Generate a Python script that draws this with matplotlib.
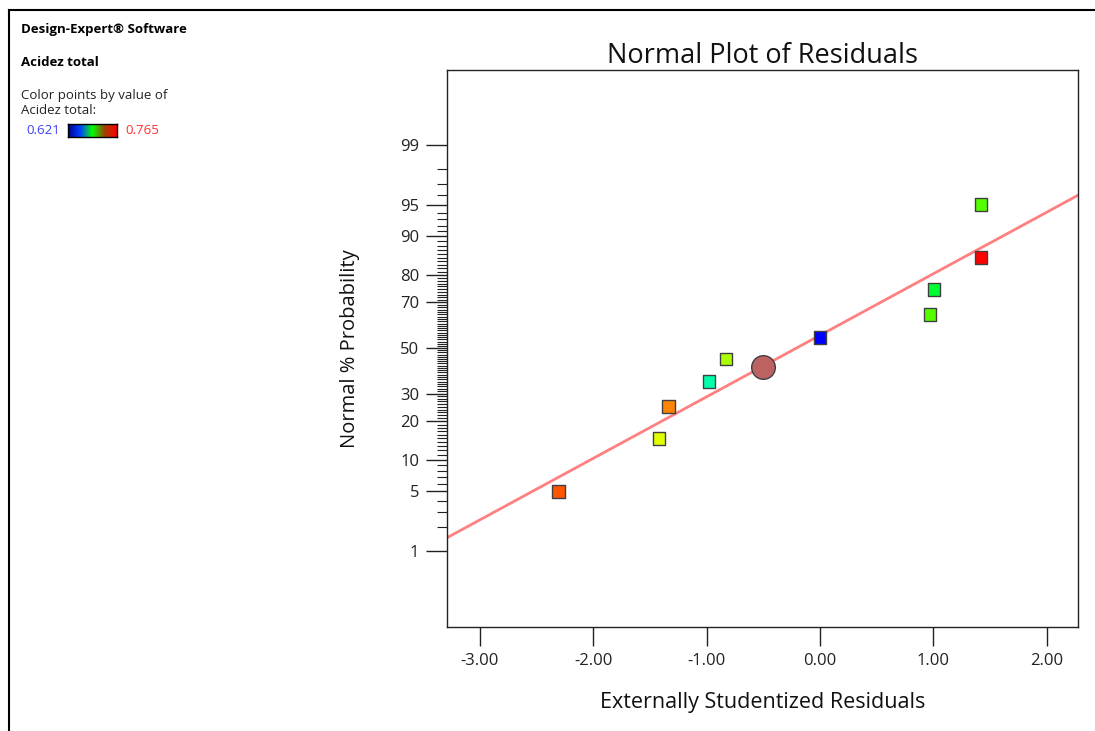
import matplotlib
matplotlib.use("Agg")
import matplotlib.pyplot as plt
from matplotlib.colors import LinearSegmentedColormap
from matplotlib.lines import Line2D
from statistics import NormalDist
import numpy as np

# residuals (sorted) and their normal % probability
residuals = [-2.31, -1.42, -1.34, -0.98, -0.83, 0.00, 0.97, 1.005, 1.42, 1.42]
probability = [5, 15, 25, 35, 45, 55, 65, 75, 85, 95]
acidez = [0.753, 0.725, 0.746, 0.669, 0.717, 0.621, 0.705, 0.686, 0.765, 0.705]

# highlighted point
circle_x = -0.50
circle_p = 41.4

# fitted line: z = a + b*x
line_x = [-3.29, 2.275]
line_a = 0.147
line_b = 0.706

major_p = [1, 5, 10, 20, 30, 50, 70, 80, 90, 95, 99]
minor_p = list(range(1, 100))
x_ticks = [-3, -2, -1, 0, 1, 2]

acid_min, acid_max = 0.621, 0.765

nd = NormalDist()
def z(p):
    return [nd.inv_cdf(v / 100) for v in p]

plt.rcParams['font.family'] = ['Open Sans', 'DejaVu Sans']

fig = plt.figure(figsize=(10.95, 7.31), dpi=100)
ax = fig.add_axes([447 / 1095, 1 - 627 / 731, 631 / 1095, 557 / 731])

pt_cmap = LinearSegmentedColormap.from_list(
    'pts', ['#0000FF', '#00FFFF', '#00FF00', '#FFFF00', '#FF0000'])

lx = np.array(line_x)
ax.plot(lx, line_a + line_b * lx, color='#FF8080', lw=2.0, zorder=2)

ax.scatter(residuals, z(probability), c=acidez, cmap=pt_cmap,
           vmin=acid_min, vmax=acid_max, marker='s', s=85,
           edgecolors='#404040', linewidths=1.0, zorder=3)
ax.scatter([circle_x], z([circle_p]), s=290, color='#BC6262',
           edgecolors='#404040', linewidths=1.0, zorder=4)

ax.set_xlim(-3.29, 2.275)
ax.set_ylim(-3.20, 3.19)

ax.set_yticks(z(major_p))
ax.set_yticklabels([str(p) for p in major_p])
ax.set_yticks(z(minor_p), minor=True)
ax.tick_params(axis='y', which='major', length=15, width=1, labelsize=12,
               colors='#222222', pad=5)
ax.tick_params(axis='y', which='minor', length=7, width=0.8, color='#222222')

ax.set_xticks(x_ticks)
ax.set_xticklabels([f'{v:.2f}' for v in x_ticks])
ax.tick_params(axis='x', length=14, width=1, labelsize=12, pad=5,
               colors='#222222')
for s in ax.spines.values():
    s.set_color('#222222')
    s.set_linewidth(1.0)

ax.set_title('Normal Plot of Residuals', fontsize=19.5, pad=5, color='#111111')
ax.set_xlabel('Externally Studentized Residuals', fontsize=15.5, labelpad=16,
              color='#111111')
ax.set_ylabel('Normal % Probability', fontsize=14.5, labelpad=29,
              color='#111111')

# side annotations
fig.text(21 / 1095, 1 - 30 / 731, 'Design-Expert® Software', fontsize=9.5,
         fontweight='bold', va='center')
fig.text(21 / 1095, 1 - 62 / 731, 'Acidez total', fontsize=9.5,
         fontweight='bold', va='center')
fig.text(21 / 1095, 1 - 95 / 731, 'Color points by value of', fontsize=9.5,
         va='center', color='#222222')
fig.text(21 / 1095, 1 - 110 / 731, 'Acidez total:', fontsize=9.5,
         va='center', color='#222222')
fig.text(26 / 1095, 1 - 131 / 731, f'{acid_min:.3f}', fontsize=9.5,
         va='center', color='#4040FF')
fig.text(125 / 1095, 1 - 131 / 731, f'{acid_max:.3f}', fontsize=9.5,
         va='center', color='#FF3030')

bar_cmap = LinearSegmentedColormap.from_list(
    'bar', ['#000090', '#0040FF', '#00FF00', '#A04000', '#FF0000'])
cax = fig.add_axes([68 / 1095, 1 - 137 / 731, 49 / 1095, 13 / 731])
cax.imshow(np.linspace(0, 1, 200)[None, :], aspect='auto', cmap=bar_cmap)
cax.set_xticks([])
cax.set_yticks([])
for s in cax.spines.values():
    s.set_linewidth(1.0)

# frame lines
fig.add_artist(Line2D([9 / 1095, 1], [1 - 10 / 731, 1 - 10 / 731],
                      color='black', lw=1.5))
fig.add_artist(Line2D([9 / 1095, 9 / 1095], [0, 1 - 10 / 731],
                      color='black', lw=1.5))

fig.savefig('out.png', dpi=100)
